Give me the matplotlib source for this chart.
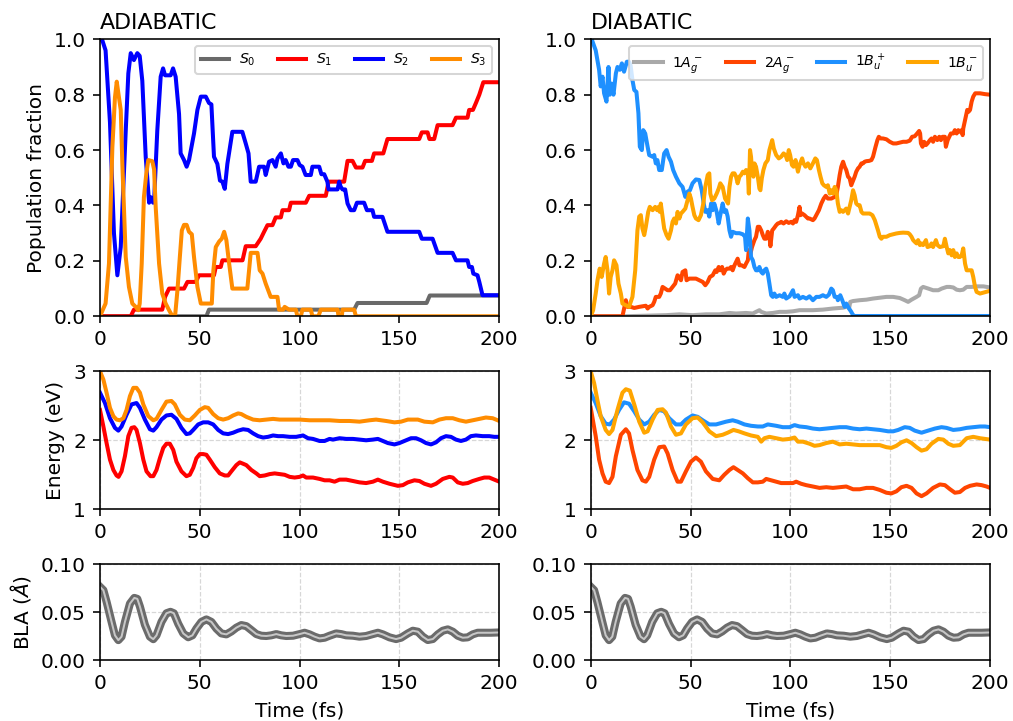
import numpy as np
import matplotlib
matplotlib.use("Agg")
import matplotlib.pyplot as plt

# ---- populations, adiabatic basis: (time fs, fraction) ----
pop_s0 = [(0, 0), (53.3, 0), (54.6, 0.024), (127.3, 0.024), (129, 0.048), (163.6, 0.048),
          (165.2, 0.075), (200, 0.075)]
pop_s1 = [(0, 0), (15.4, 0), (17, 0.024), (31.2, 0.024), (32.6, 0.07), (34.6, 0.1), (42.1, 0.1),
          (43.8, 0.124), (48, 0.124), (49.6, 0.148), (57.1, 0.148), (58, 0.178), (60.5, 0.178),
          (61.3, 0.202), (71.4, 0.202), (73, 0.253), (78, 0.253), (80.5, 0.28), (82.2, 0.305),
          (83.9, 0.329), (86.4, 0.329), (88, 0.357), (90.6, 0.357), (91.4, 0.383), (94.7, 0.383),
          (95.6, 0.41), (103.1, 0.41), (104.8, 0.435), (113.1, 0.435), (114.5, 0.486),
          (122.3, 0.486), (124, 0.561), (126.5, 0.561), (128.2, 0.537), (131.5, 0.537),
          (132.8, 0.561), (136.2, 0.561), (137.3, 0.588), (141.9, 0.588), (144, 0.64),
          (159.9, 0.64), (161.2, 0.664), (164.1, 0.664), (165, 0.64), (167.4, 0.64), (169.1, 0.69),
          (176.6, 0.69), (178.3, 0.717), (184.1, 0.717), (184.9, 0.745), (186.8, 0.745),
          (188.3, 0.77), (190, 0.8), (192, 0.845), (200, 0.845)]
pop_s2 = [(0, 1.0), (1, 1.0), (2.8, 0.96), (5, 0.7), (7, 0.3), (8.7, 0.148), (10.4, 0.25),
          (12.9, 0.67), (14.2, 0.877), (15.4, 0.95), (17, 0.925), (18.7, 0.95), (19.9, 0.94),
          (21.2, 0.85), (22.9, 0.576), (24.6, 0.41), (25.4, 0.43), (26.6, 0.41), (27.2, 0.43),
          (28.7, 0.67), (30.4, 0.865), (31.6, 0.895), (32.6, 0.87), (35.4, 0.87), (36.6, 0.895),
          (37.9, 0.865), (39.6, 0.73), (40.4, 0.588), (42.1, 0.564), (43.4, 0.54), (44.6, 0.564),
          (47.1, 0.66), (48.8, 0.745), (50.5, 0.793), (53, 0.793), (54.6, 0.77), (55.8, 0.765),
          (57.1, 0.576), (58.8, 0.55), (60.1, 0.49), (61.3, 0.486), (62.5, 0.46), (63.8, 0.55),
          (66.3, 0.666), (71.3, 0.666), (73, 0.624), (74.4, 0.588), (75.5, 0.486), (78, 0.486),
          (79.7, 0.54), (82.2, 0.54), (83, 0.51), (84.7, 0.558), (86.4, 0.564), (88, 0.54),
          (88.9, 0.57), (90.6, 0.588), (91.9, 0.552), (93, 0.564), (94.4, 0.54), (95.6, 0.54),
          (96.7, 0.564), (98.9, 0.564), (100, 0.546), (101.4, 0.54), (103, 0.51), (105.6, 0.51),
          (106.4, 0.54), (109.8, 0.54), (110.9, 0.513), (112.3, 0.513), (113.9, 0.486),
          (114.5, 0.458), (119, 0.458), (119.8, 0.486), (120.6, 0.467), (121.5, 0.458),
          (122.8, 0.458), (124, 0.407), (125.6, 0.383), (127.3, 0.383), (128.7, 0.41),
          (132.3, 0.41), (133.7, 0.383), (136.5, 0.383), (137.3, 0.359), (141.5, 0.359),
          (144, 0.305), (159.9, 0.305), (161.2, 0.28), (166.6, 0.28), (169.1, 0.229),
          (176.6, 0.229), (178.3, 0.202), (184.1, 0.202), (184.9, 0.178), (186.3, 0.178),
          (187, 0.154), (189.1, 0.148), (190, 0.124), (191.6, 0.076), (200, 0.076)]
pop_s3 = [(0, 0), (2.8, 0.046), (4.5, 0.19), (6.2, 0.61), (7.5, 0.79), (8.4, 0.847), (9.5, 0.79),
          (10.4, 0.745), (11.2, 0.55), (12.9, 0.214), (14.5, 0.106), (16.2, 0.046), (17.9, 0.034),
          (19.2, 0.022), (19.9, 0.046), (20.9, 0.19), (22, 0.43), (23.2, 0.515), (24.2, 0.564),
          (26.2, 0.56), (27.1, 0.53), (27.9, 0.395), (29.6, 0.19), (31.2, 0.082), (32.9, 0.046),
          (34.6, 0.022), (36.3, 0), (37.6, 0), (38.8, 0.094), (40, 0.214), (41, 0.31),
          (42.1, 0.33), (43.4, 0.33), (44.6, 0.305), (46, 0.296), (47.1, 0.214), (48.8, 0.106),
          (50.5, 0.046), (56, 0.046), (56.8, 0.166), (58, 0.25), (59.7, 0.27), (61, 0.28),
          (62.2, 0.305), (63.3, 0.275), (64.7, 0.19), (66.3, 0.1), (73.8, 0.1), (75.5, 0.229),
          (78.9, 0.229), (80, 0.166), (81.4, 0.154), (83, 0.118), (85.5, 0.07), (88.9, 0.07),
          (89.7, 0.024), (91.7, 0.024), (92.5, 0.034), (94.7, 0.024), (98.1, 0.024), (98.9, 0),
          (100.6, 0), (101.4, 0.024), (105.6, 0.024), (106.4, 0), (109.4, 0), (110.6, 0.024),
          (119, 0.024), (119.5, 0), (121.1, 0), (121.5, 0.024), (127.3, 0.024), (128.2, 0),
          (200, 0)]

# ---- populations, diabatic basis ----
pop_1ag = [(0, 0), (15.9, 0), (27.6, 0.002), (37.7, 0.004), (44.4, 0.007), (51, 0.004),
           (57.7, 0.007), (64.4, 0.007), (69.5, 0.012), (72.8, 0.01), (77.8, 0.012), (81.2, 0.01),
           (82.8, 0.016), (84.5, 0.022), (85.4, 0.016), (87.9, 0.01), (91.2, 0.012),
           (94.6, 0.016), (97.9, 0.016), (101.3, 0.018), (104.6, 0.022), (111.3, 0.022),
           (116.3, 0.024), (121.3, 0.028), (126.4, 0.031), (128, 0.034), (128.9, 0.04),
           (129.4, 0.028), (130, 0.052), (131.4, 0.055), (134.7, 0.058), (138.1, 0.06),
           (141.4, 0.064), (144.8, 0.067), (148.1, 0.07), (151.5, 0.07), (154.8, 0.066),
           (157.3, 0.058), (159, 0.052), (160.7, 0.06), (163.2, 0.07), (164.5, 0.076),
           (165.4, 0.1), (166.5, 0.106), (169.1, 0.1), (171.5, 0.094), (174.1, 0.094),
           (175.8, 0.1), (178.3, 0.106), (179.9, 0.106), (181.6, 0.104), (183.3, 0.096),
           (184.9, 0.094), (186.6, 0.096), (188.3, 0.106), (190.8, 0.106), (193.3, 0.108),
           (196.7, 0.108), (200, 0.104)]
pop_2ag = [(0, 0), (15.9, 0), (17.6, 0.058), (18.4, 0.034), (20.1, 0.034), (21.8, 0.03),
           (24.3, 0.034), (25.9, 0.036), (27.6, 0.038), (28.5, 0.028), (29.3, 0.034), (31, 0.04),
           (31.8, 0.052), (32.6, 0.07), (34.3, 0.07), (35.1, 0.082), (36, 0.106), (37.3, 0.1),
           (38.5, 0.094), (39.7, 0.094), (41, 0.106), (42.3, 0.118), (43.5, 0.148),
           (44.4, 0.142), (45.2, 0.13), (46, 0.16), (47.4, 0.166), (48, 0.13), (49.4, 0.136),
           (52.7, 0.136), (54.4, 0.13), (56.1, 0.124), (57.4, 0.112), (58.6, 0.124),
           (59.7, 0.142), (61.1, 0.148), (62.4, 0.166), (63.1, 0.16), (64.1, 0.178),
           (64.8, 0.166), (65.8, 0.178), (66.6, 0.154), (67.4, 0.166), (68.3, 0.172),
           (69.5, 0.172), (70.3, 0.178), (71.1, 0.166), (72, 0.184), (72.8, 0.196),
           (73.6, 0.208), (74.5, 0.184), (75.6, 0.184), (77, 0.178), (77.8, 0.19), (78.7, 0.202),
           (79.2, 0.239), (79.8, 0.22), (80.8, 0.25), (82, 0.275), (82.8, 0.287), (83.7, 0.323),
           (84.5, 0.323), (85.4, 0.31), (86.2, 0.293), (87, 0.28), (87.9, 0.28), (88.7, 0.305),
           (89.5, 0.293), (90, 0.253), (90.9, 0.31), (91.7, 0.317), (92.9, 0.329),
           (93.7, 0.335), (94.6, 0.337), (95.4, 0.341), (96.6, 0.335), (97.9, 0.343),
           (99.2, 0.337), (100.4, 0.341), (101.3, 0.335), (102.1, 0.347), (102.9, 0.341),
           (103.8, 0.365), (104.6, 0.395), (105.1, 0.365), (105.9, 0.371), (107.1, 0.365),
           (108.8, 0.353), (109.6, 0.353), (111.3, 0.347), (112.1, 0.353), (113, 0.365),
           (114.3, 0.383), (115.5, 0.407), (116.7, 0.425), (117.7, 0.435), (118.8, 0.425),
           (120.5, 0.425), (122.2, 0.431), (123, 0.437), (123.8, 0.467), (124.7, 0.51),
           (125.5, 0.54), (126.4, 0.558), (127.2, 0.54), (128, 0.528), (128.9, 0.504),
           (129.7, 0.498), (130.5, 0.473), (131.4, 0.49), (132.2, 0.504), (133, 0.522),
           (133.9, 0.534), (134.7, 0.54), (135.6, 0.552), (136.4, 0.552), (137.2, 0.558),
           (138.1, 0.56), (139.4, 0.561), (140.6, 0.564), (141.4, 0.576), (142.6, 0.61),
           (143.6, 0.636), (144.3, 0.648), (145.3, 0.642), (146.4, 0.642), (148.1, 0.639),
           (149.8, 0.63), (151.5, 0.624), (153.1, 0.624), (154.8, 0.627), (156.5, 0.63),
           (158.2, 0.63), (159.8, 0.634), (161, 0.648), (162.3, 0.65), (163.5, 0.66),
           (164.5, 0.669), (165, 0.66), (165.4, 0.624), (166.2, 0.612), (167, 0.63),
           (167.9, 0.618), (168.7, 0.624), (169.9, 0.636), (170.7, 0.642), (171.5, 0.63),
           (172.4, 0.648), (173.6, 0.636), (174.6, 0.648), (175.4, 0.636), (176.2, 0.648),
           (177.4, 0.648), (177.9, 0.612), (178.8, 0.636), (179.6, 0.648), (180.4, 0.66),
           (181.6, 0.66), (182.4, 0.672), (183.3, 0.66), (184.1, 0.672), (184.9, 0.666),
           (185.8, 0.672), (186.3, 0.654), (186.6, 0.678), (187.5, 0.708), (188.6, 0.745),
           (189.2, 0.738), (190, 0.745), (190.8, 0.775), (191.6, 0.793), (192.6, 0.805),
           (195, 0.805), (197.5, 0.802), (200, 0.8)]
pop_1bup = [(0, 1.0), (0.5, 1.0), (2.5, 0.96), (4.2, 0.89), (5, 0.83), (5.9, 0.865),
            (6.7, 0.805), (7.9, 0.775), (8.9, 0.9), (9.5, 0.8), (10.5, 0.84), (11.4, 0.8),
            (12.6, 0.877), (13.4, 0.9), (14.6, 0.89), (15.6, 0.913), (16.7, 0.883),
            (18.1, 0.919), (19.2, 0.919), (20, 0.905), (20.9, 0.853), (21.8, 0.817),
            (22.9, 0.81), (23.9, 0.733), (24.6, 0.612), (25.6, 0.6), (26.3, 0.672), (27.3, 0.66),
            (28.5, 0.612), (29.3, 0.582), (31, 0.576), (31.8, 0.582), (32.6, 0.552),
            (33.4, 0.564), (34.3, 0.528), (35.6, 0.528), (36.8, 0.588), (38, 0.6), (39, 0.576),
            (40.2, 0.558), (41.3, 0.528), (42.7, 0.504), (44.4, 0.48), (46, 0.467),
            (47.4, 0.431), (48.5, 0.45), (49.7, 0.455), (51, 0.48), (52.7, 0.494), (54.4, 0.492),
            (55.6, 0.455), (56.6, 0.407), (57.4, 0.377), (58.6, 0.383), (59.4, 0.36),
            (60.3, 0.407), (61.1, 0.383), (61.9, 0.407), (63.1, 0.377), (64.1, 0.335),
            (64.9, 0.365), (66.1, 0.407), (66.9, 0.377), (67.8, 0.383), (68.6, 0.36),
            (69.5, 0.31), (70.3, 0.287), (71.1, 0.305), (72.8, 0.3), (74.5, 0.3), (76.2, 0.296),
            (77.3, 0.287), (77.8, 0.239), (78.7, 0.353), (79.5, 0.31), (80.3, 0.214),
            (81.2, 0.202), (82, 0.178), (82.8, 0.166), (83.7, 0.166), (84.5, 0.178),
            (85.4, 0.16), (86.2, 0.154), (87, 0.166), (87.9, 0.172), (88.7, 0.154),
            (89.5, 0.118), (90.4, 0.076), (91.2, 0.07), (92, 0.082), (92.9, 0.07), (94.6, 0.076),
            (96.2, 0.07), (97, 0.082), (97.9, 0.064), (99.6, 0.072), (101.3, 0.094),
            (102.1, 0.07), (103.8, 0.076), (104.6, 0.064), (106.3, 0.07), (108, 0.064),
            (109.6, 0.072), (111.3, 0.058), (113, 0.07), (114.6, 0.07), (116.3, 0.076),
            (118, 0.07), (119.3, 0.078), (120.5, 0.1), (121.3, 0.094), (122.2, 0.07),
            (123.3, 0.07), (123.8, 0.058), (125, 0.076), (126, 0.058), (127.2, 0.034),
            (128, 0.046), (129.4, 0.028), (130.5, 0.016), (131.4, 0.004), (132.2, 0.001),
            (200, 0.001)]
pop_1bum = [(0, 0), (1.2, 0.022), (2.5, 0.082), (3.4, 0.13), (4.5, 0.172), (5.5, 0.142),
            (6.7, 0.19), (7.5, 0.214), (8.4, 0.166), (9.2, 0.082), (10, 0.142), (10.9, 0.166),
            (11.7, 0.202), (12.9, 0.184), (13.9, 0.118), (15.1, 0.082), (15.9, 0.046),
            (17.6, 0.04), (19.2, 0.034), (20.9, 0.07), (22.3, 0.166), (23.4, 0.31), (24.3, 0.36),
            (25.1, 0.365), (25.9, 0.317), (26.8, 0.293), (27.6, 0.323), (28.8, 0.377),
            (29.6, 0.395), (31, 0.383), (32.3, 0.395), (33.3, 0.383), (34, 0.395), (34.6, 0.377),
            (35.1, 0.407), (36, 0.36), (36.8, 0.317), (38, 0.293), (39, 0.28), (40.2, 0.31),
            (41, 0.341), (41.8, 0.353), (42.7, 0.335), (43.5, 0.377), (44.4, 0.353),
            (45.2, 0.371), (46, 0.377), (47.4, 0.389), (48.5, 0.419), (49.4, 0.443),
            (50.2, 0.425), (51, 0.395), (51.9, 0.365), (52.7, 0.353), (54, 0.347), (55.2, 0.365),
            (56.4, 0.407), (57.4, 0.467), (58.6, 0.51), (59.4, 0.516), (59.9, 0.443),
            (60.8, 0.419), (61.9, 0.425), (63.1, 0.443), (64.1, 0.461), (64.9, 0.48),
            (66.1, 0.467), (67.3, 0.425), (68.3, 0.413), (68.8, 0.407), (69.5, 0.467),
            (70.3, 0.504), (71.1, 0.516), (72, 0.516), (72.8, 0.504), (73.6, 0.48),
            (74.5, 0.504), (75.3, 0.51), (76.2, 0.522), (77, 0.516), (77.8, 0.528),
            (78.7, 0.522), (79.2, 0.443), (79.8, 0.6), (80.3, 0.576), (80.8, 0.528),
            (81.5, 0.504), (82, 0.552), (82.8, 0.54), (83.7, 0.504), (84.5, 0.461), (85, 0.455),
            (85.7, 0.498), (86.5, 0.528), (87.5, 0.552), (88.7, 0.564), (89.5, 0.6),
            (90.4, 0.624), (90.9, 0.636), (91.7, 0.606), (92.9, 0.582), (94.2, 0.57),
            (95.4, 0.576), (96.6, 0.588), (97.6, 0.582), (98.4, 0.564), (99.2, 0.6),
            (99.9, 0.582), (100.8, 0.546), (101.6, 0.54), (102.6, 0.564), (103.8, 0.522),
            (104.6, 0.546), (105.9, 0.57), (106.6, 0.552), (107.6, 0.54), (108.8, 0.552),
            (110, 0.534), (111.3, 0.552), (112.5, 0.57), (113.3, 0.564), (114.3, 0.528),
            (115.1, 0.504), (116, 0.48), (116.8, 0.473), (118, 0.467), (118.8, 0.473),
            (119.7, 0.443), (120.5, 0.455), (121.3, 0.443), (122.2, 0.467), (123, 0.455),
            (123.8, 0.407), (124.7, 0.377), (125.5, 0.383), (126.4, 0.377), (127.2, 0.383),
            (128, 0.389), (128.9, 0.371), (129.7, 0.395), (130.5, 0.419), (131.4, 0.455),
            (132.2, 0.437), (133, 0.407), (133.9, 0.401), (134.7, 0.401), (135.6, 0.377),
            (136.4, 0.371), (139.7, 0.371), (141.1, 0.365), (142.3, 0.347), (143.1, 0.329),
            (143.9, 0.31), (144.8, 0.287), (145.6, 0.28), (146.4, 0.287), (148.1, 0.287),
            (149.8, 0.293), (151.5, 0.296), (153.1, 0.299), (154.8, 0.301), (156.5, 0.302),
            (159, 0.301), (159.8, 0.296), (160.7, 0.287), (161.5, 0.275), (162.3, 0.269),
            (163.2, 0.263), (164, 0.275), (164.9, 0.257), (165.7, 0.263), (166.5, 0.257),
            (167.9, 0.275), (168.7, 0.25), (169.9, 0.253), (170.7, 0.263), (171.5, 0.25),
            (172.9, 0.275), (173.7, 0.257), (174.9, 0.25), (176.6, 0.253), (177.4, 0.28),
            (178.3, 0.25), (179.1, 0.227), (179.9, 0.239), (180.8, 0.22), (181.6, 0.239),
            (182.4, 0.214), (183.3, 0.227), (184.1, 0.214), (184.9, 0.214), (185.8, 0.22),
            (186.6, 0.245), (187.5, 0.19), (188.3, 0.166), (190.8, 0.166), (191.6, 0.142),
            (192.5, 0.106), (193.3, 0.088), (195, 0.082), (197, 0.086), (200, 0.092)]

# ---- state energies (eV) ----
en_s1 = [(0, 2.44), (1.7, 2.2), (3.3, 1.96), (5, 1.72), (6.7, 1.57), (8.3, 1.49), (9.3, 1.47),
         (10.8, 1.55), (12.5, 1.77), (14.2, 2.06), (15.8, 2.18), (17.2, 2.19), (18.3, 2.15),
         (20, 1.96), (21.7, 1.72), (23.3, 1.55), (25.3, 1.48), (26.7, 1.48), (28.3, 1.57),
         (30, 1.74), (31.7, 1.89), (33.3, 1.95), (35, 1.95), (36.7, 1.86), (38.3, 1.69),
         (40.8, 1.55), (43.3, 1.48), (45, 1.5), (46.7, 1.6), (48.3, 1.74), (50, 1.8),
         (51.7, 1.8), (53.3, 1.79), (55, 1.72), (57.5, 1.61), (60, 1.52), (62.5, 1.49),
         (64.2, 1.49), (65.8, 1.55), (68.3, 1.64), (70, 1.68), (71.7, 1.66), (73.3, 1.64),
         (75.8, 1.57), (78.3, 1.52), (80, 1.48), (82.5, 1.49), (85, 1.51), (87.5, 1.52),
         (90, 1.51), (92.5, 1.5), (95, 1.47), (97.5, 1.46), (100, 1.47), (101.7, 1.49),
         (103.3, 1.46), (106.7, 1.46), (110, 1.44), (112.5, 1.42), (115, 1.42), (117.5, 1.4),
         (120, 1.43), (123.3, 1.43), (126.7, 1.41), (130, 1.39), (133.3, 1.38), (136.7, 1.4),
         (139.2, 1.43), (141.7, 1.4), (145, 1.37), (149.2, 1.34), (151.7, 1.35), (154.2, 1.39),
         (157.5, 1.42), (160, 1.41), (162.5, 1.37), (165.8, 1.34), (168.3, 1.37),
         (171.7, 1.44), (175, 1.47), (176.7, 1.46), (179.2, 1.39), (181.7, 1.37),
         (184.2, 1.38), (186.7, 1.41), (190, 1.44), (192.5, 1.46), (195, 1.46), (197.5, 1.43),
         (200, 1.4)]
en_s2 = [(0, 2.69), (2.5, 2.54), (5, 2.32), (7.5, 2.18), (9.2, 2.14), (10.8, 2.2), (13.3, 2.37),
         (15.8, 2.52), (18.3, 2.54), (20, 2.47), (22.5, 2.3), (25, 2.16), (26.7, 2.14),
         (28.3, 2.19), (30.8, 2.3), (33.3, 2.36), (35.8, 2.37), (38.3, 2.31), (40.8, 2.18),
         (43.3, 2.09), (45, 2.1), (46.7, 2.15), (49.2, 2.23), (51.7, 2.26), (54.2, 2.26),
         (56.7, 2.23), (59.2, 2.15), (61.7, 2.1), (64.2, 2.09), (66.7, 2.11), (69.2, 2.14),
         (71.7, 2.16), (74.2, 2.15), (76.7, 2.1), (79.2, 2.06), (81.7, 2.04), (84.2, 2.05),
         (86.7, 2.07), (89.2, 2.06), (91.7, 2.06), (95, 2.05), (98.3, 2.05), (101.7, 2.07),
         (104.2, 2.03), (106.7, 2.02), (110, 1.99), (112.5, 1.99), (115, 2.02), (116.7, 2.01),
         (120, 2.03), (123.3, 2.02), (126.7, 2.02), (130, 2.01), (133.3, 2.0), (136.7, 2.01),
         (139.2, 2.02), (141.7, 1.99), (144.2, 1.96), (147.5, 1.94), (150, 1.96),
         (152.5, 1.99), (155.8, 2.03), (158.3, 2.03), (160.8, 2.0), (163.3, 1.96),
         (165.8, 1.94), (168.3, 1.97), (170.8, 2.03), (173.3, 2.06), (175.8, 2.05),
         (178.3, 2.01), (180.8, 1.99), (183.3, 2.01), (185.8, 2.06), (188.3, 2.07),
         (191.7, 2.06), (195, 2.06), (197.5, 2.05), (200, 2.05)]
en_s3 = [(0, 3.0), (1.7, 2.88), (3.3, 2.69), (5, 2.47), (6.7, 2.35), (8.3, 2.3), (10, 2.29),
         (11.7, 2.32), (13.3, 2.44), (15, 2.64), (16.7, 2.76), (18.3, 2.76), (20, 2.69),
         (21.7, 2.52), (24.2, 2.35), (26.7, 2.29), (28.3, 2.31), (30.8, 2.44), (33.3, 2.56),
         (35.8, 2.57), (37.5, 2.52), (40, 2.37), (42.5, 2.3), (45, 2.29), (47.5, 2.36),
         (50, 2.44), (52.5, 2.48), (54.2, 2.47), (56.7, 2.38), (59.2, 2.32), (61.7, 2.3),
         (64.2, 2.32), (66.7, 2.36), (69.2, 2.39), (70.8, 2.38), (73.3, 2.34), (76.7, 2.3),
         (80, 2.29), (83.3, 2.3), (86.7, 2.31), (90, 2.3), (95, 2.3), (100, 2.3), (105, 2.29),
         (110, 2.29), (115, 2.29), (120, 2.28), (125, 2.28), (130, 2.27), (135, 2.29),
         (138.3, 2.3), (143.3, 2.28), (147.5, 2.26), (150.8, 2.27), (154.2, 2.3), (159.2, 2.3),
         (162.5, 2.27), (166.7, 2.26), (170, 2.3), (173.3, 2.32), (176.7, 2.32), (180, 2.29),
         (183.3, 2.27), (186.7, 2.29), (190, 2.31), (193.3, 2.33), (196.7, 2.32), (200, 2.28)]
en_2ag = [(0, 2.47), (2.5, 2.06), (4.2, 1.72), (5.9, 1.52), (7.5, 1.4), (9.2, 1.38),
          (10.9, 1.47), (12.6, 1.77), (15.1, 2.08), (17.6, 2.16), (19.2, 2.1), (20.9, 1.86),
          (23.4, 1.57), (25.9, 1.42), (27.6, 1.4), (29.3, 1.47), (31.8, 1.72), (34.3, 1.9),
          (36.8, 1.91), (38.5, 1.81), (41, 1.57), (43.5, 1.4), (45.2, 1.4), (47.7, 1.55),
          (50.2, 1.69), (52.7, 1.75), (55.2, 1.69), (57.7, 1.55), (61.1, 1.44), (64.4, 1.42),
          (66.9, 1.5), (69.5, 1.57), (71.5, 1.61), (73.6, 1.57), (76.2, 1.52), (78.7, 1.45),
          (81.2, 1.39), (83.7, 1.39), (86.2, 1.4), (87.9, 1.44), (90.4, 1.42), (92.9, 1.4),
          (95.4, 1.38), (97.9, 1.38), (101.3, 1.38), (102.9, 1.4), (105.4, 1.37), (107.9, 1.35),
          (111.3, 1.33), (114.6, 1.31), (118, 1.32), (121.3, 1.31), (124.7, 1.32), (128, 1.33),
          (131.4, 1.29), (134.7, 1.29), (138.1, 1.31), (141.4, 1.31), (144.8, 1.28),
          (148.1, 1.24), (150.6, 1.23), (153.1, 1.26), (155.6, 1.32), (158.2, 1.34),
          (160.7, 1.31), (163.2, 1.23), (165.7, 1.19), (168.2, 1.23), (171.5, 1.31),
          (174.9, 1.36), (177.4, 1.35), (180, 1.29), (182.4, 1.24), (184.9, 1.25),
          (187.5, 1.31), (190, 1.34), (193.3, 1.36), (195.8, 1.35), (198.3, 1.33), (200, 1.31)]
en_1bup = [(0, 2.69), (2.5, 2.54), (5, 2.35), (7.5, 2.24), (9.5, 2.23), (11.7, 2.3),
           (14.2, 2.44), (16.7, 2.55), (19.2, 2.53), (21.8, 2.42), (24.3, 2.3), (26.8, 2.23),
           (29.3, 2.27), (31.8, 2.37), (34.3, 2.44), (36.8, 2.42), (39.3, 2.32), (42.7, 2.23),
           (45.2, 2.23), (47.7, 2.3), (51, 2.36), (53.6, 2.34), (56.1, 2.29), (59.4, 2.23),
           (62.8, 2.23), (65.3, 2.25), (67.8, 2.27), (71.1, 2.29), (73.6, 2.27), (77, 2.23),
           (80.3, 2.21), (83.7, 2.2), (86.2, 2.2), (88.7, 2.23), (92.9, 2.21), (96.2, 2.19),
           (99.6, 2.19), (102.1, 2.22), (104.6, 2.2), (108, 2.19), (111.3, 2.17), (114.6, 2.16),
           (118, 2.17), (121.3, 2.18), (124.7, 2.19), (128, 2.19), (131.4, 2.17), (134.7, 2.16),
           (138.1, 2.17), (141.4, 2.16), (144.8, 2.15), (149, 2.13), (151.5, 2.13), (154, 2.15),
           (157.3, 2.19), (159.8, 2.18), (162.3, 2.14), (165.7, 2.11), (169, 2.14),
           (172.4, 2.17), (175.7, 2.19), (178.2, 2.18), (181.6, 2.15), (184.9, 2.16),
           (188.3, 2.18), (191.6, 2.19), (195, 2.2), (197.5, 2.2), (200, 2.19)]
en_1bum = [(0, 3.0), (1.7, 2.83), (3.3, 2.59), (5, 2.35), (7.5, 2.15), (9.2, 2.09), (10.9, 2.15),
           (13.4, 2.44), (15.9, 2.69), (17.6, 2.74), (19.6, 2.72), (21.8, 2.52), (24.3, 2.27),
           (26.8, 2.11), (28.5, 2.13), (31, 2.3), (33.5, 2.44), (36, 2.45), (37.7, 2.4),
           (40.2, 2.2), (42.7, 2.08), (45.2, 2.1), (47.7, 2.23), (51, 2.32), (53.6, 2.33),
           (56.1, 2.26), (59.4, 2.13), (62.8, 2.06), (66.1, 2.08), (68.6, 2.11), (71.5, 2.15),
           (74.1, 2.13), (77, 2.1), (80.3, 2.07), (83.7, 2.05), (85.4, 1.98), (87, 2.03),
           (89.5, 2.05), (92.9, 2.03), (96.2, 2.01), (99.6, 2.02), (102.1, 2.04), (103.8, 1.98),
           (106.3, 1.98), (109.6, 1.95), (112.1, 1.92), (114.6, 1.93), (118, 1.96),
           (121.3, 1.98), (124.7, 1.94), (128, 1.95), (131.4, 1.94), (134.7, 1.93),
           (144.8, 1.93), (148.1, 1.9), (150.6, 1.89), (153.1, 1.92), (155.6, 1.97),
           (158.2, 2.0), (160.7, 1.96), (163.2, 1.9), (165.7, 1.85), (168.2, 1.87),
           (170.7, 1.95), (174.1, 2.02), (176.6, 2.01), (179.1, 1.95), (181.6, 1.92),
           (184.9, 1.93), (186.6, 1.98), (188.3, 2.03), (191.6, 2.05), (195, 2.03),
           (197.5, 2.02), (200, 2.01)]

# ---- bond length alternation (Angstrom) ----
bla = [(0, 0.0765), (1.7, 0.073), (3.3, 0.061), (5.8, 0.04), (7.5, 0.026), (9.2, 0.021),
       (10.8, 0.0246), (12.5, 0.04), (15, 0.059), (17.2, 0.065), (18.7, 0.064), (20, 0.056),
       (22.5, 0.037), (25, 0.0246), (26.7, 0.022), (28.3, 0.026), (30.8, 0.04), (33.3, 0.049),
       (35.3, 0.0505), (37, 0.049), (39.2, 0.038), (41.7, 0.028), (44.2, 0.024), (46.3, 0.026),
       (48.3, 0.033), (50.8, 0.04), (53.3, 0.0426), (55.8, 0.04), (58.3, 0.033), (60.8, 0.028),
       (63.3, 0.027), (65.8, 0.03), (68.3, 0.034), (70.8, 0.0367), (73.3, 0.0356),
       (75.8, 0.0315), (78.3, 0.0273), (80.8, 0.0256), (83.3, 0.0253), (85.8, 0.026),
       (88.3, 0.0273), (90.8, 0.026), (93.3, 0.0253), (96.7, 0.0256), (100, 0.0273),
       (102.5, 0.0287), (105, 0.027), (107.5, 0.0246), (110, 0.0228), (112.5, 0.0235),
       (115, 0.0256), (118.3, 0.028), (120.8, 0.0273), (123.3, 0.026), (126.7, 0.0256),
       (130, 0.0246), (133.3, 0.0253), (136.7, 0.0273), (139.2, 0.0287), (141.7, 0.027),
       (145, 0.0239), (148.3, 0.0221), (150.8, 0.0235), (154.2, 0.028), (156.7, 0.0308),
       (159.2, 0.0298), (161.7, 0.0246), (164.2, 0.0211), (166.7, 0.0221), (169.2, 0.027),
       (171.7, 0.0308), (174.2, 0.0322), (176.7, 0.0298), (179.2, 0.0256), (181.7, 0.0235),
       (184.2, 0.0239), (186.7, 0.027), (189.2, 0.0287), (192.5, 0.0287), (195.8, 0.0287),
       (200, 0.029)]

adia_labels = [r"$S_0$", r"$S_1$", r"$S_2$", r"$S_3$"]
adia_colors = ["dimgray", "red", "blue", "darkorange"]
dia_labels = [r"$1A_g^-$", r"$2A_g^-$", r"$1B_u^+$", r"$1B_u^-$"]
dia_colors = ["darkgray", "orangered", "dodgerblue", "orange"]


def xy(pts):
    arr = np.array(pts, dtype=float)
    return arr[:, 0], arr[:, 1]


fig, axes = plt.subplots(3, 2, figsize=(1013 / 145, 721 / 145), dpi=145,
                         gridspec_kw=dict(height_ratios=[277, 138, 96], hspace=0.323,
                                          wspace=0.229, left=0.0987, right=0.9773,
                                          top=0.9455, bottom=0.0842))

columns = [
    ("ADIABATIC", [pop_s0, pop_s1, pop_s2, pop_s3], adia_labels, adia_colors,
     [en_s1, en_s2, en_s3], adia_colors[1:]),
    ("DIABATIC", [pop_1ag, pop_2ag, pop_1bup, pop_1bum], dia_labels, dia_colors,
     [en_2ag, en_1bup, en_1bum], dia_colors[1:]),
]

for col, (title, pops, labels, colors, energies, ecolors) in enumerate(columns):
    ax_p, ax_e, ax_b = axes[:, col]

    for pts, lab, c in zip(pops, labels, colors):
        t, v = xy(pts)
        ax_p.plot(t, v, color=c, lw=2, label=lab)
    ax_p.set_xlim(0, 200)
    ax_p.set_ylim(0, 1)
    ax_p.set_title(title, loc="left", fontsize=11, pad=5)
    ax_p.legend(ncol=4, loc="upper right", fontsize=7, columnspacing=1.6,
                handletextpad=0.7)

    for pts, c in zip(energies, ecolors):
        t, v = xy(pts)
        ax_e.plot(t, v, color=c, lw=2)
    ax_e.set_xlim(0, 200)
    ax_e.set_ylim(1, 3)
    ax_e.set_yticks([1, 2, 3])
    ax_e.grid(True, ls="--", lw=0.6, alpha=0.5)

    # BLA drawn as a dark band with a light core
    t, v = xy(bla)
    ax_b.plot(t, v, color="0.42", lw=4)
    ax_b.plot(t, v, color="0.78", lw=1)
    ax_b.set_xlim(0, 200)
    ax_b.set_ylim(0, 0.1)
    ax_b.set_yticks([0, 0.05, 0.1])
    ax_b.grid(True, ls="--", lw=0.6, alpha=0.5)
    ax_b.set_xlabel("Time (fs)")

    for ax in (ax_p, ax_e, ax_b):
        ax.set_xticks([0, 50, 100, 150, 200])

axes[0, 0].set_ylabel("Population fraction")
axes[1, 0].set_ylabel("Energy (eV)")
axes[2, 0].set_ylabel(r"BLA ($\AA$)")

fig.savefig("out.png", dpi=145)
